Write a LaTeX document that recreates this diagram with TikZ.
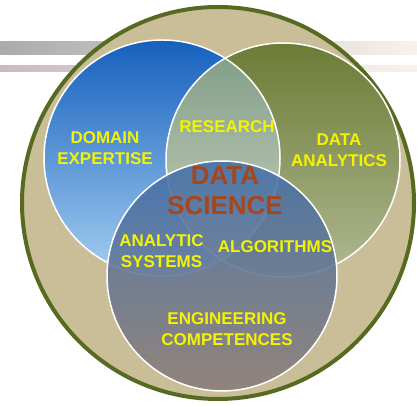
\documentclass[tikz,border=0pt]{standalone}
\usepackage{fontspec}
\setmainfont{Liberation Sans}
\definecolor{khaki}{HTML}{C9BE97}
\definecolor{olive}{HTML}{566A22}
\definecolor{lblyellow}{HTML}{F4F400}
\definecolor{dsbrown}{HTML}{A6461B}
\definecolor{domaintop}{HTML}{1660BE}
\definecolor{domainbot}{HTML}{A4CEF0}
\definecolor{analytop}{HTML}{6C7C36}
\definecolor{analybot}{HTML}{B0B892}
\definecolor{lenstop}{HTML}{7E9C86}
\definecolor{lensbot}{HTML}{CFD5C0}
\definecolor{engtop}{HTML}{4270AC}
\definecolor{engbot}{HTML}{8A7C78}
\begin{document}
\begin{tikzpicture}[x=1pt,y=1pt,
  lbl/.style={text=lblyellow,font=\bfseries\fontsize{17}{21}\selectfont,align=center},
  core/.style={text=dsbrown,font=\bfseries\fontsize{26}{30}\selectfont,align=center},
  rim/.style={draw=white,line width=1.5pt}]
\useasboundingbox(0,0)rectangle(417,406);
% bars behind the circle
\shade[left color=black!33,right color=white!90!brown](0,351)rectangle(417,364);
\shade[left color=purple!20!gray!45,right color=white!90!brown](0,334)rectangle(417,340);
% outer ring
\fill[khaki](218,203)circle(197);
\draw[olive,line width=4pt](218,203)circle(196);
% domain circle
\shade[shading angle=45,top color=domaintop,bottom color=domainbot](162,248)circle(118);
% analytics circle
\shade[shading angle=-45,top color=analytop,bottom color=analybot](283,246)circle(117);
% research lens
\begin{scope}
\clip(162,248)circle(118);
\shade[top color=lenstop,bottom color=lensbot](283,246)circle(117);
\end{scope}
\draw[rim](162,248)circle(118);
\draw[rim](283,246)circle(117);
% engineering circle
\shade[shading angle=45,fill opacity=0.88,top color=engtop,bottom color=engbot](222,130)circle(115);
\draw[rim](222,130)circle(115);
%labels
\node[lbl](domain)at(105,257.5){DOMAIN\\EXPERTISE};
\node[lbl](research)at(227,279){RESEARCH};
\node[lbl](analytics)at(339,255.5){DATA\\ANALYTICS};
\node[core](science)at(225,215){DATA\\SCIENCE};
\node[lbl](systems)at(161.5,154.5){ANALYTIC\\SYSTEMS};
\node[lbl](algo)at(275,159){ALGORITHMS};
\node[lbl](engineering)at(227,76.5){ENGINEERING\\COMPETENCES};
\end{tikzpicture}
\end{document}
